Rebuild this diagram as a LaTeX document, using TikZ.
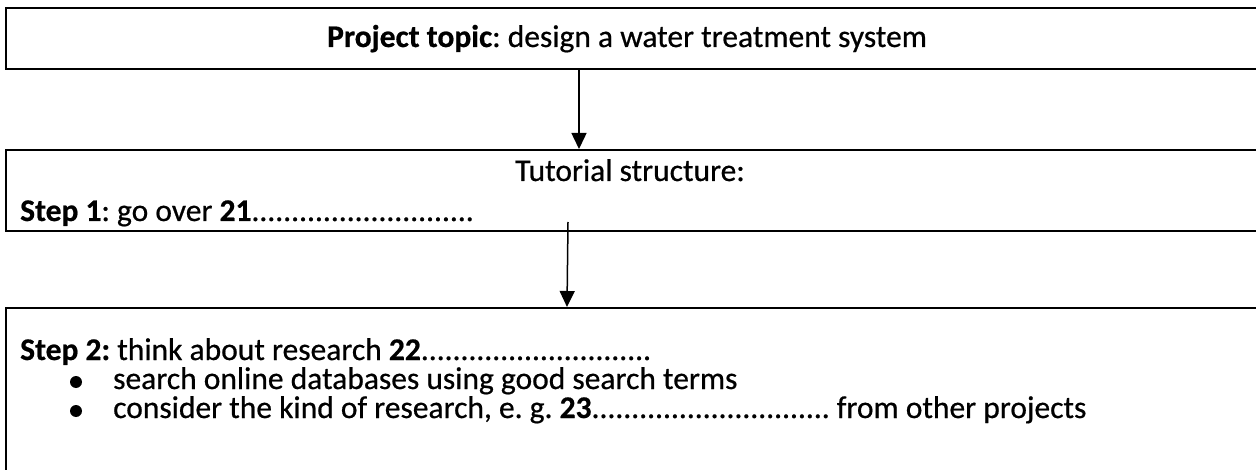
\documentclass[tikz,border=0pt]{standalone}
\usepackage{fontspec}
\setmainfont{Carlito}[UprightFeatures={FakeBold=0.6},BoldFeatures={FakeBold=0.6}]
\usetikzlibrary{arrows.meta}
\begin{document}
\frenchspacing
\begin{tikzpicture}[x=1pt,y=-1pt,
  boxstyle/.style={draw, line width=1.7pt, rectangle, inner sep=0pt, anchor=north west},
  txt/.style={inner sep=0pt, font=\fontsize{31.5}{36}\selectfont},
  bul/.style={circle, fill, inner sep=0pt, minimum size=12pt},
  arr/.style={line width=1.5pt, -{Triangle[width=15pt,length=16pt]}}]
\useasboundingbox (0,0) rectangle (1256,470);
% boxes
\node[boxstyle, minimum width=1320pt, minimum height=61pt] (box1) at (5,7) {};
\node[boxstyle, minimum width=1320pt, minimum height=81pt] (box2) at (5,149) {};
\node[boxstyle, minimum width=1320pt, minimum height=220pt] (box3) at (5,307) {};
% texts
\node[txt, anchor=base] (t1) at (627,47) {\textbf{Project topic}: design a water treatment system};
\node[txt, anchor=base] (t2) at (630,181) {Tutorial structure:};
\node[txt, anchor=base west] (t3) at (20,221) {\textbf{Step 1}: go over \textbf{21}............................};
\node[txt, anchor=base west] (t4) at (20,360) {\textbf{Step 2:} think about research \textbf{22}.............................};
\node[bul] (b1) at (76,382) {};
\node[txt, anchor=base west] (t5) at (113,389) {search online databases using good search terms};
\node[bul] (b2) at (76,411) {};
\node[txt, anchor=base west] (t6) at (113,418) {consider the kind of research, e. g. \textbf{23}.............................. from other projects};
% arrows
\coordinate (x1) at (579,0);
\coordinate (x2) at (567,0);
\coordinate (a2s) at (568,222);
\draw[arr] (box1.south -| x1) -- (box2.north -| x1);
\draw[arr] (a2s) -- (box3.north -| x2);
\end{tikzpicture}
\end{document}
